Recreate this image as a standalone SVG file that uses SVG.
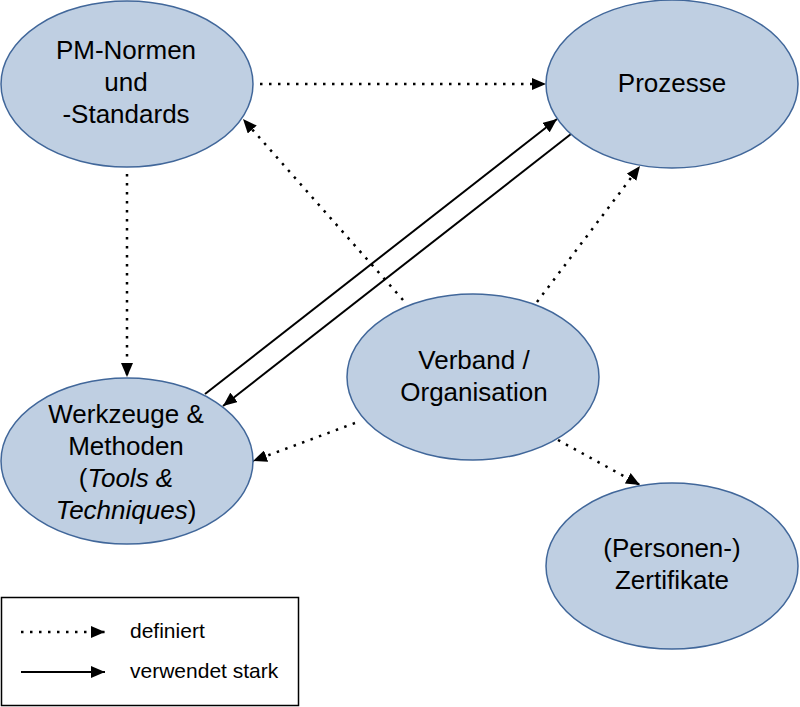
<svg xmlns="http://www.w3.org/2000/svg" width="800" height="707" viewBox="0 0 800 707">
<style>
.node ellipse{fill:#bfcfe2;stroke:#41679a;stroke-width:1.5}
.node text{font-family:"Liberation Sans",Arial,sans-serif;font-size:26px;fill:#000;text-anchor:middle}
.dot{fill:none;stroke:#000;stroke-width:2.5;stroke-dasharray:2.5 6.5;marker-end:url(#ah)}
.solid{fill:none;stroke:#000;stroke-width:2;marker-end:url(#ah)}
.leg{font-family:"Liberation Sans",Arial,sans-serif;font-size:21px;fill:#000}
</style>
<defs>
<marker id="ah" viewBox="0 0 14 12" refX="14" refY="6" markerWidth="14" markerHeight="12" markerUnits="userSpaceOnUse" orient="auto">
<path d="M0,0 L14,6 L0,12 z" fill="#000"/>
</marker>
</defs>
<rect width="800" height="707" fill="#fff"/>
<g id="connectors">
<line class="dot" x1="260" y1="84" x2="546" y2="84"/>
<line class="dot" x1="127" y1="174" x2="127" y2="377"/>
<line class="dot" x1="403" y1="300" x2="243" y2="119"/>
<line class="dot" x1="537" y1="302" x2="640" y2="166"/>
<line class="dot" x1="355" y1="423" x2="253" y2="461"/>
<line class="dot" x1="558" y1="440" x2="640" y2="485"/>
<line class="solid" x1="205" y1="394" x2="557" y2="119"/>
<line class="solid" x1="571" y1="134" x2="223" y2="406"/>
</g>
<g id="pm-normen" class="node">
<ellipse cx="127" cy="84" rx="126" ry="83"/>
<text x="126" y="59">PM-Normen</text>
<text x="126" y="91">und</text>
<text x="126" y="123">-Standards</text>
</g>
<g id="prozesse" class="node">
<ellipse cx="672" cy="84" rx="126" ry="84"/>
<text x="672" y="92">Prozesse</text>
</g>
<g id="werkzeuge" class="node">
<ellipse cx="127" cy="461" rx="126" ry="83"/>
<text x="126" y="423">Werkzeuge &amp;</text>
<text x="126" y="455">Methoden</text>
<text x="126" y="487">(<tspan font-style="italic">Tools &amp;</tspan></text>
<text x="126" y="519"><tspan font-style="italic">Techniques</tspan>)</text>
</g>
<g id="verband" class="node">
<ellipse cx="473" cy="377" rx="126" ry="83"/>
<text x="474" y="369">Verband /</text>
<text x="474" y="401">Organisation</text>
</g>
<g id="zertifikate" class="node">
<ellipse cx="672" cy="566" rx="126" ry="83"/>
<text x="672" y="557">(Personen-)</text>
<text x="672" y="589">Zertifikate</text>
</g>
<g id="legend">
<rect x="1.5" y="597.5" width="297" height="108" fill="none" stroke="#000" stroke-width="1.5"/>
<line class="dot" x1="21" y1="632" x2="105" y2="632"/>
<line class="solid" x1="21" y1="672" x2="105" y2="672"/>
<text class="leg" x="130" y="638">definiert</text>
<text class="leg" x="130" y="678">verwendet stark</text>
</g>
</svg>
